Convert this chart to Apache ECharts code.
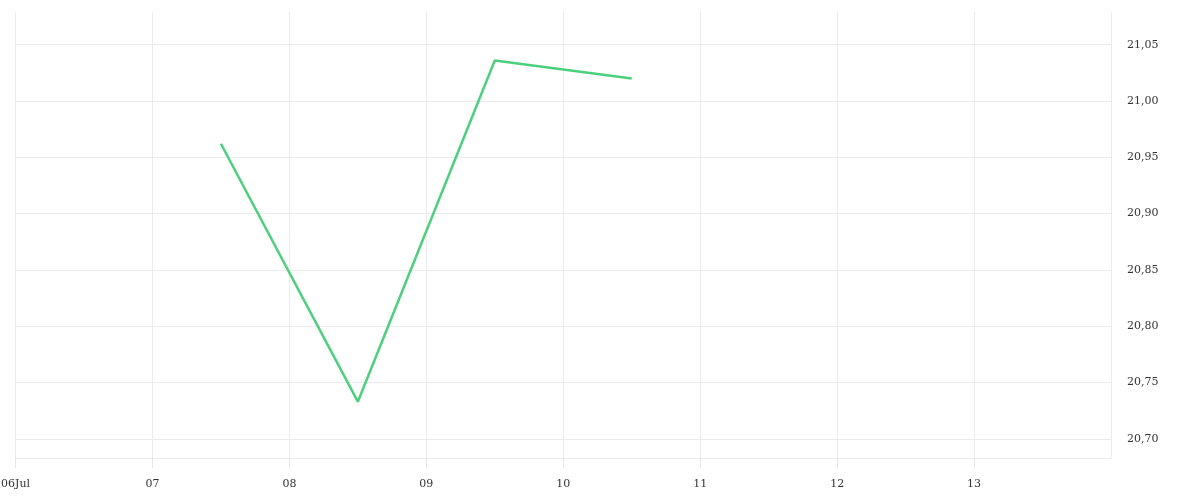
<!DOCTYPE html>
<html lang="en">
  <head>
    <meta charset="UTF-8" />
    <title>eCharts</title>
    <script src="https://cdn.jsdelivr.net/npm/echarts@6.0.0/dist/echarts.min.js"></script>
    <style>
      html, body { margin: 0; padding: 0; background: #fff; }
    </style>
  </head>
  <body>
    <div id="main" style="width: 1200px; height: 500px"></div>
    <script type="text/javascript">
      // data
      const dates = ["2023-07-07T12:00:00Z", "2023-07-08T12:00:00Z", "2023-07-09T12:00:00Z", "2023-07-10T12:00:00Z"];
      const prices = [20.962, 20.733, 21.036, 21.020];
      const xMin = "2023-07-06T00:00:00Z";
      const xMax = "2023-07-14T00:00:00Z";
      const yMin = 20.683;
      const yMax = 21.079;

      const DAY = 86400000;
      const gridColor = "#ececec";
      const textStyle = { color: "#333", fontFamily: "DejaVu Serif", fontSize: 11 };
      const firstDay = Date.parse(xMin);

      let myChart = echarts.init(document.getElementById("main"));

      let options = {
        useUTC: true,
        animation: false,
        grid: { left: 15.5, right: 89, top: 12, bottom: 42, containLabel: false, outerBoundsMode: "none" },
        xAxis: {
          type: "time",
          min: xMin,
          max: xMax,
          minInterval: DAY,
          maxInterval: DAY,
          axisLine: { lineStyle: { color: gridColor } },
          axisTick: { show: true, inside: false, length: 10, lineStyle: { color: "#e6e6e6", width: 1 } },
          splitLine: { show: true, lineStyle: { color: gridColor } },
          axisLabel: Object.assign({}, textStyle, {
            margin: 21,
            showMaxLabel: false,
            formatter: (value) => {
              const d = new Date(value);
              const dd = String(d.getUTCDate()).padStart(2, "0");
              // only the first day carries the month name
              return Math.abs(value - firstDay) < 1000 ? dd + "Jul" : dd;
            },
          }),
        },
        yAxis: {
          type: "value",
          position: "right",
          min: yMin,
          max: yMax,
          splitNumber: 8,
          minInterval: 0.05,
          maxInterval: 0.05,
          axisLine: { show: false },
          axisTick: { show: false },
          splitLine: { show: true, showMaxLine: false, lineStyle: { color: gridColor } },
          axisLabel: Object.assign({}, textStyle, {
            margin: 16,
            showMinLabel: false,
            showMaxLabel: false,
            formatter: (v) => v.toFixed(2).replace(".", ","),
          }),
        },
        series: [
          {
            type: "line",
            data: dates.map((d, i) => [d, prices[i]]),
            showSymbol: false,
            lineStyle: { color: "#4cd07d", width: 2.5 },
            itemStyle: { color: "#4cd07d" },
          },
        ],
      };
      myChart.setOption(options);
    </script>
  </body>
</html>
